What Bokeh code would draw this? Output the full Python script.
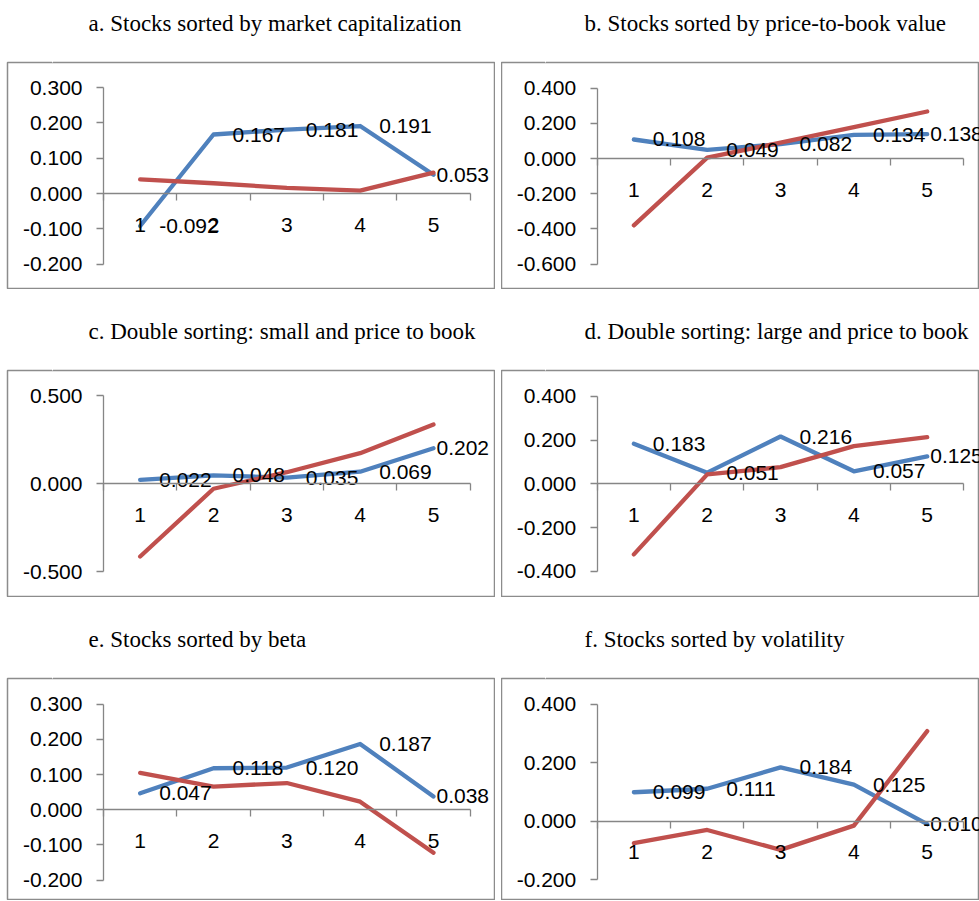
from bokeh.plotting import figure
from bokeh.models import (LinearAxis, FixedTicker, PrintfTickFormatter, Range1d, Title)
from bokeh.layouts import column, row
from bokeh.embed import file_html
from bokeh.resources import INLINE
from bokeh.core.properties import value

# ---------------- data ----------------
quintiles = [1, 2, 3, 4, 5]

titles = [
    "a. Stocks sorted by market capitalization",
    "b. Stocks sorted by price-to-book value",
    "c. Double sorting: small and price to book",
    "d. Double sorting: large and price to book",
    "e. Stocks sorted by beta",
    "f. Stocks sorted by volatility",
]

a_blue = [-0.092, 0.167, 0.181, 0.191, 0.053]
a_red = [0.040, 0.029, 0.016, 0.008, 0.059]
b_blue = [0.108, 0.049, 0.082, 0.134, 0.138]
b_red = [-0.380, 0.005, 0.090, 0.178, 0.267]
c_blue = [0.022, 0.048, 0.035, 0.069, 0.202]
c_red = [-0.413, -0.028, 0.066, 0.174, 0.337]
d_blue = [0.183, 0.051, 0.216, 0.057, 0.125]
d_red = [-0.323, 0.043, 0.076, 0.172, 0.213]
e_blue = [0.047, 0.118, 0.120, 0.187, 0.038]
e_red = [0.105, 0.066, 0.076, 0.023, -0.122]
f_blue = [0.099, 0.111, 0.184, 0.125, -0.010]
f_red = [-0.075, -0.030, -0.098, -0.015, 0.308]

a_yticks = [-0.2, -0.1, 0.0, 0.1, 0.2, 0.3]
b_yticks = [-0.6, -0.4, -0.2, 0.0, 0.2, 0.4]
c_yticks = [-0.5, 0.0, 0.5]
d_yticks = [-0.4, -0.2, 0.0, 0.2, 0.4]
e_yticks = [-0.2, -0.1, 0.0, 0.1, 0.2, 0.3]
f_yticks = [-0.2, 0.0, 0.2, 0.4]

# ---------------- style ----------------
BLUE = "#4F81BD"
RED = "#C0504D"
AXIS = "#868686"
BOX = "#8c8c8c"
SANS = "Liberation Sans"
SERIF = "Liberation Serif"
FS = "21px"
TITLE_GAP = 27


def panel(title, blue, red, yticks, xr, yr, width, height, border_top,
          border_left, title_offset, last_offset=3):
    p = figure(width=width, height=height, title=None, toolbar_location=None,
               output_backend="svg", x_axis_type=None, y_axis_type=None,
               x_range=Range1d(*xr), y_range=Range1d(*yr),
               min_border_left=border_left, min_border_right=0,
               min_border_bottom=0, min_border_top=border_top)
    p.xgrid.visible = False
    p.ygrid.visible = False
    p.outline_line_color = BOX
    p.outline_line_width = 1.5
    p.background_fill_color = "white"
    p.border_fill_color = "white"

    # blank spacer (white tick on white, label not drawn) between frame and title
    spacer = LinearAxis(ticker=FixedTicker(ticks=[quintiles[0] - 1.2], minor_ticks=[]))
    spacer.axis_line_color = None
    spacer.major_tick_line_color = "white"
    spacer.major_tick_line_width = 1
    spacer.minor_tick_line_color = None
    spacer.major_tick_out = TITLE_GAP
    spacer.major_tick_in = 0
    spacer.minor_tick_out = 0
    spacer.minor_tick_in = 0
    spacer.major_label_standoff = 0
    spacer.major_label_text_font_size = "1px"
    spacer.major_label_text_alpha = 0
    spacer.major_label_text_color = None
    p.add_layout(spacer, "above")

    t = Title(text=title, align="left", offset=title_offset, standoff=0,
              text_font=SERIF, text_font_size="23px", text_font_style="normal",
              text_color="#000000")
    p.add_layout(t, "above")

    boundaries = [q - 0.5 for q in quintiles] + [quintiles[-1] + 0.5]
    xa = LinearAxis(ticker=FixedTicker(ticks=quintiles, minor_ticks=boundaries),
                    fixed_location=0, bounds=(boundaries[0], boundaries[-1]))
    xa.axis_line_color = AXIS
    xa.axis_line_width = 1.3
    xa.major_tick_line_color = None
    xa.major_tick_out = 0
    xa.major_tick_in = 0
    xa.minor_tick_line_color = AXIS
    xa.minor_tick_line_width = 1.3
    xa.minor_tick_out = 7
    xa.minor_tick_in = 0
    xa.major_label_standoff = 17
    xa.major_label_text_font = SANS
    xa.major_label_text_font_size = FS
    xa.major_label_text_color = "#000000"
    p.add_layout(xa, "below")

    ya = LinearAxis(ticker=FixedTicker(ticks=yticks, minor_ticks=[]),
                    formatter=PrintfTickFormatter(format="%.3f"),
                    fixed_location=boundaries[0], bounds=(yticks[0], yticks[-1]))
    ya.axis_line_color = AXIS
    ya.axis_line_width = 1.3
    ya.major_tick_line_color = AXIS
    ya.major_tick_line_width = 1.3
    ya.major_tick_out = 7
    ya.major_tick_in = 0
    ya.minor_tick_line_color = None
    ya.major_label_standoff = 14
    ya.major_label_text_font = SANS
    ya.major_label_text_font_size = FS
    ya.major_label_text_color = "#000000"
    p.add_layout(ya, "left")

    p.line(quintiles, blue, line_color=BLUE, line_width=4.3,
           line_join="round", line_cap="round")
    p.line(quintiles, red, line_color=RED, line_width=4.3,
           line_join="round", line_cap="round")
    offsets = [19] * (len(quintiles) - 1) + [last_offset]
    p.text(quintiles, blue, text=[f"{v:.3f}" for v in blue], x_offset=offsets,
           text_align="left", text_baseline="middle",
           text_font=value(SANS), text_font_size=FS, text_color="#000000")
    return p


LW, RW = 495, 478
XL = (-0.8091, 5.8457)
XR = (-0.805, 5.713)

pa = panel(titles[0], a_blue, a_red, a_yticks, XL, (-0.2717, 0.3708), LW, 289, 62, 7, 81)
pb = panel(titles[1], b_blue, b_red, b_yticks, XR, (-0.7443, 0.5455), RW, 289, 62, 0, 83)
pc = panel(titles[2], c_blue, c_red, c_yticks, XL, (-0.646, 0.644), LW, 308, 81, 7, 81)
pd = panel(titles[3], d_blue, d_red, d_yticks, XR, (-0.520, 0.518), RW, 308, 81, 0, 83)
pe = panel(titles[4], e_blue, e_red, e_yticks, XL, (-0.2577, 0.373), LW, 303, 81, 7, 81)
pf = panel(titles[5], f_blue, f_red, f_yticks, XR, (-0.2711, 0.488), RW, 303, 81, 0, 83,
           last_offset=-4)

layout = column(row(pa, pb, spacing=6), row(pc, pd, spacing=6), row(pe, pf, spacing=6), spacing=0)

open("out.html", "w").write(file_html(layout, INLINE))
